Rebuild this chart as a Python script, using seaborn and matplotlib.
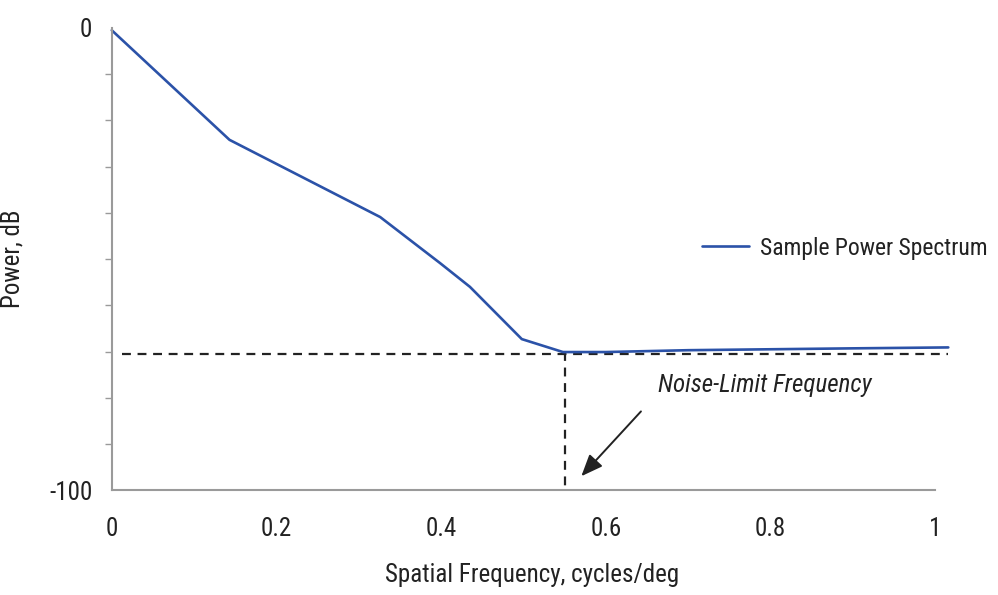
import matplotlib
matplotlib.use("Agg")
import matplotlib.pyplot as plt
import seaborn as sns
import pandas as pd
import logging

logging.getLogger("matplotlib.font_manager").setLevel(logging.ERROR)

# Sample power spectrum (spatial frequency in cycles/deg, power in dB)
freq = [0.0, 0.143, 0.326, 0.399, 0.435, 0.498, 0.548, 0.60, 0.70, 0.80, 0.90, 1.016]
power = [-0.5, -24.2, -40.9, -50.9, -56.0, -67.3, -70.1, -70.1, -69.7, -69.5, -69.3, -69.1]

noise_floor = -70.6
noise_limit_freq = 0.55

xticks = [0, 0.2, 0.4, 0.6, 0.8, 1]
xtick_labels = ["0", "0.2", "0.4", "0.6", "0.8", "1"]

df = pd.DataFrame({"freq": freq, "power": power})

sns.set_theme(style="white")
plt.rcParams["font.family"] = ["Roboto Condensed", "Archivo Narrow", "PT Sans Narrow",
                               "Sofia Sans Semi Condensed", "Liberation Sans"]

FS = 18
INK = "#222222"

fig = plt.figure(figsize=(9.98, 5.95), dpi=100)
ax = fig.add_axes([0.112, 0.176, 0.825, 0.777])

sns.lineplot(data=df, x="freq", y="power", ax=ax, color="#2b52a8", linewidth=1.9,
             clip_on=False, legend=False)

# noise floor and noise-limit frequency markers
ax.plot([0.012, 1.016], [noise_floor, noise_floor], color=INK, lw=1.6,
        ls=(0, (4, 3)), clip_on=False, zorder=1)
ax.plot([noise_limit_freq, noise_limit_freq], [noise_floor + 0.5, -100], color=INK,
        lw=1.6, ls=(0, (4, 3)), clip_on=False, zorder=1)

ax.annotate("", xy=(0.568, -97.4), xytext=(0.645, -82.5),
            arrowprops=dict(arrowstyle="-|>,head_length=1.1,head_width=0.45",
                            color=INK, lw=1.4))
ax.text(0.663, -77.3, "Noise-Limit Frequency", fontsize=FS, style="italic",
        color=INK, va="center", ha="left")

ax.set_xlim(0, 1)
ax.set_ylim(-100, 0)
ax.set_xticks(xticks)
ax.set_xticklabels(xtick_labels)
ax.set_yticks([-100, 0])
ax.set_yticklabels(["-100", "0"])
ax.set_yticks(range(-90, 0, 10), minor=True)

for s in ["top", "right"]:
    ax.spines[s].set_visible(False)
for s in ["left", "bottom"]:
    ax.spines[s].set_color("#9a9a9a")
    ax.spines[s].set_linewidth(1.5)

ax.tick_params(axis="both", which="major", direction="out", length=6, width=1.2,
               colors="#9a9a9a", labelcolor=INK, labelsize=FS, pad=13)
ax.tick_params(axis="y", which="minor", direction="out", length=5, width=1.0,
               colors="#9a9a9a", left=True)
ax.tick_params(axis="y", which="major", pad=8)

ax.set_xlabel("Spatial Frequency, cycles/deg", fontsize=FS, color=INK)
ax.xaxis.set_label_coords(0.511, -0.157)
ax.set_ylabel("Power, dB", fontsize=FS, color=INK)
ax.yaxis.set_label_coords(-0.106, 0.5)

leg = ax.legend(handles=ax.get_lines()[:1], labels=["Sample Power Spectrum"],
                loc="center left", bbox_to_anchor=(0.717, 0.524), frameon=False,
                fontsize=17, handlelength=2.0, handletextpad=0.45,
                borderpad=0, borderaxespad=0)
for t in leg.get_texts():
    t.set_color(INK)

fig.savefig("out.png", dpi=100, facecolor="white")
